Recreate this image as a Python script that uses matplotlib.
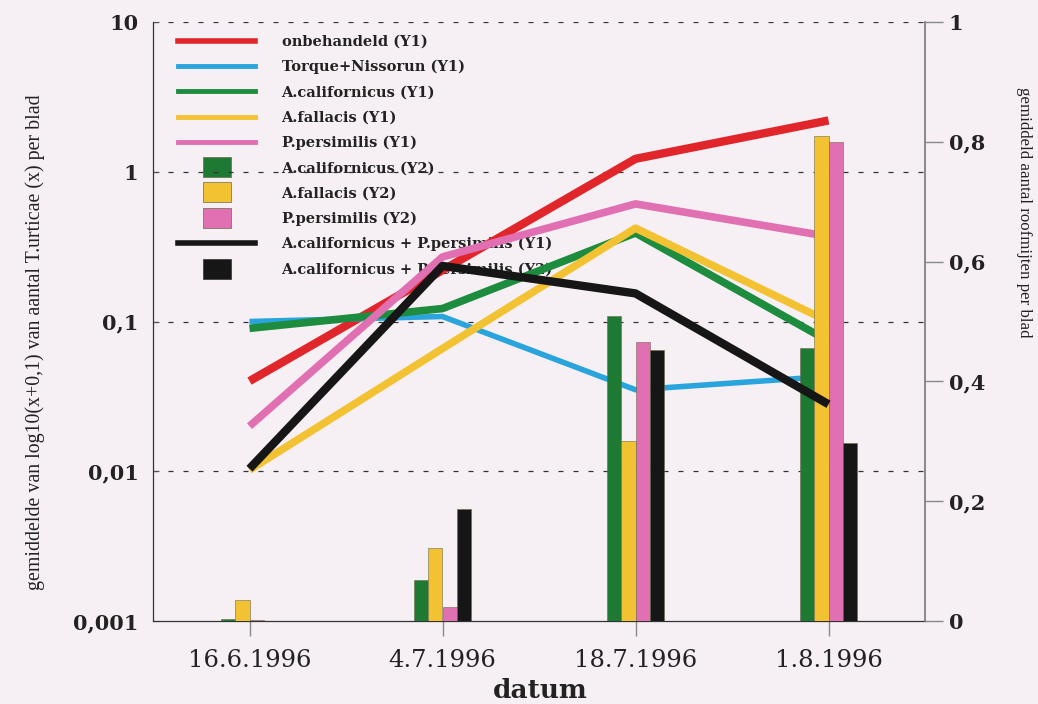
import matplotlib
matplotlib.use("Agg")
import matplotlib.pyplot as plt
import numpy as np
from matplotlib.lines import Line2D

# --- data -------------------------------------------------------------
dates = ["16.6.1996", "4.7.1996", "18.7.1996", "1.8.1996"]

# mean log10(x+0.1) of T. urticae per leaf (left axis, log scale)
onbehandeld = [0.04, 0.22, 1.22, 2.2]
torque_nissorun = [0.10, 0.108, 0.035, 0.043]
acal_y1 = [0.09, 0.122, 0.39, 0.074]
afal_y1 = [0.0102, 0.066, 0.42, 0.10]
ppers_y1 = [0.020, 0.27, 0.61, 0.37]
acal_ppers_y1 = [0.0104, 0.235, 0.154, 0.028]

# mean number of predatory mites per leaf (right axis)
acal_y2 = [0.003, 0.068, 0.51, 0.456]
afal_y2 = [0.035, 0.122, 0.30, 0.81]
ppers_y2 = [0.002, 0.023, 0.466, 0.80]
acal_ppers_y2 = [0.0, 0.187, 0.453, 0.297]

# --- style ------------------------------------------------------------
RED = "#e1262b"
BLUE = "#2aa4dd"
GREEN_L = "#1d8c3e"
GREEN_B = "#1e7a33"
YELLOW = "#f2c233"
PINK = "#e070b2"
BLACK = "#161616"
BG = "#f6f0f4"

SERIF = ["DejaVu Serif"]
TIMES = ["Liberation Serif", "DejaVu Serif"]

fig = plt.figure(figsize=(10.38, 7.04), dpi=100, facecolor=BG)
ax = fig.add_axes([153 / 1038, 1 - 621 / 704, (925 - 153) / 1038, (621 - 22) / 704])
ax.set_facecolor(BG)
ax2 = ax.twinx()
ax2.patch.set_visible(False)

x = np.arange(len(dates))

# Y1 lines (behind the bars)
lines_y1 = [
    (onbehandeld, RED, 6.0),
    (torque_nissorun, BLUE, 4.0),
    (acal_y1, GREEN_L, 5.5),
    (afal_y1, YELLOW, 5.5),
    (ppers_y1, PINK, 5.5),
]
for vals, col, lw in lines_y1:
    ax.plot(x, vals, color=col, lw=lw, solid_capstyle="butt", zorder=3)

ax.set_yscale("log")
ax.set_ylim(0.001, 10)
ax.set_xlim(-0.5, 3.5)

# dashed reference lines at decades
for yv in [0.01, 0.1, 1, 10]:
    ax.axhline(yv, color="#333333", lw=0.9, ls=(0, (4, 8)), zorder=1)

# Y2 bars
bw = 0.075
bars = [
    (acal_y2, GREEN_B, -1.5),
    (afal_y2, YELLOW, -0.5),
    (ppers_y2, PINK, 0.5),
    (acal_ppers_y2, BLACK, 1.5),
]
for vals, col, off in bars:
    ax2.bar(x + off * bw, vals, width=bw, color=col, edgecolor="#6a6a4a",
            linewidth=0.4, zorder=2)
ax2.set_ylim(0, 1)

# combined-treatment line drawn on top of the bars
ax2.plot(x, acal_ppers_y1, color=BLACK, lw=6.0, solid_capstyle="butt",
         transform=ax.transData, zorder=4)

# --- axes styling -----------------------------------------------------
ax.set_xticks(x)
ax.set_xticklabels(dates, fontsize=17.5, family=SERIF, color="#222222")
ax.tick_params(axis="x", direction="out", length=11, width=1, color="#888888", pad=9)

ax.set_yticks([0.001, 0.01, 0.1, 1, 10])
ax.set_yticklabels(["0,001", "0,01", "0,1", "1", "10"], fontsize=15,
                   family=SERIF, fontweight="bold", color="#222222")
ax.yaxis.set_minor_locator(matplotlib.ticker.NullLocator())
ax.tick_params(axis="y", direction="in", length=4, width=0.8, color="#555555", pad=10.5)

ax2.set_yticks([0, 0.2, 0.4, 0.6, 0.8, 1])
ax2.set_yticklabels(["0", "0,2", "0,4", "0,6", "0,8", "1"], fontsize=15,
                    family=SERIF, fontweight="bold", color="#222222")
ax2.tick_params(axis="y", direction="out", length=13, width=1, color="#888888", pad=4)

for a in (ax, ax2):
    a.spines["top"].set_visible(False)
ax.spines["left"].set_color("#333333")
ax.spines["left"].set_linewidth(0.9)
ax.spines["bottom"].set_color("#333333")
ax.spines["bottom"].set_linewidth(0.9)
ax2.spines["right"].set_color("#777777")
ax2.spines["right"].set_linewidth(1.2)
ax2.spines["left"].set_visible(False)
ax2.spines["bottom"].set_visible(False)
ax.spines["right"].set_visible(False)

fig.text(540 / 1038, 1 - 690 / 704, "datum", ha="center", va="center",
         fontsize=19, family=SERIF, fontweight="bold", color="#222222")
fig.text(35 / 1038, 1 - 342 / 704,
         "gemiddelde van log10(x+0,1) van aantal T.urticae (x) per blad",
         rotation=90, ha="center", va="center", fontsize=14.3, family=TIMES,
         color="#222222")
fig.text(1024 / 1038, 1 - 212 / 704, "gemiddeld aantal roofmijten per blad",
         rotation=270, ha="center", va="center", fontsize=12.2, family=TIMES,
         color="#222222")

# --- legend -----------------------------------------------------------
box = [(-1, -0.75), (1, -0.75), (1, 0.75), (-1, 0.75), (-1, -0.75)]


def box_handle(col, edge="#6a6a4a"):
    return Line2D([], [], color=col, marker=box, ls="none", markersize=20,
                  markeredgecolor=edge, markeredgewidth=0.5)


handles = [
    Line2D([], [], color=RED, lw=4),
    Line2D([], [], color=BLUE, lw=3.5),
    Line2D([], [], color=GREEN_L, lw=3.5),
    Line2D([], [], color=YELLOW, lw=3.5),
    Line2D([], [], color=PINK, lw=3.5),
    box_handle(GREEN_B),
    box_handle(YELLOW),
    box_handle(PINK),
    Line2D([], [], color=BLACK, lw=4),
    box_handle(BLACK, "#333333"),
]
labels = [
    "onbehandeld (Y1)",
    "Torque+Nissorun (Y1)",
    "A.californicus (Y1)",
    "A.fallacis (Y1)",
    "P.persimilis (Y1)",
    "A.californicus (Y2)",
    "A.fallacis (Y2)",
    "P.persimilis (Y2)",
    "A.californicus + P.persimilis (Y1)",
    "A.californicus + P.persimilis (Y2)",
]
leg = ax.legend(handles, labels, loc="upper left",
                bbox_to_anchor=(178 / 1038, 1 - 35 / 704),
                bbox_transform=fig.transFigure, frameon=False,
                prop={"family": SERIF, "weight": "bold", "size": 10.5},
                handlelength=5.3, handletextpad=1.8, labelspacing=0.76,
                borderpad=0, borderaxespad=0)
leg.set_zorder(0.5)
for t in leg.get_texts():
    t.set_color("#222222")

fig.savefig("out.png", dpi=100, facecolor=BG)
